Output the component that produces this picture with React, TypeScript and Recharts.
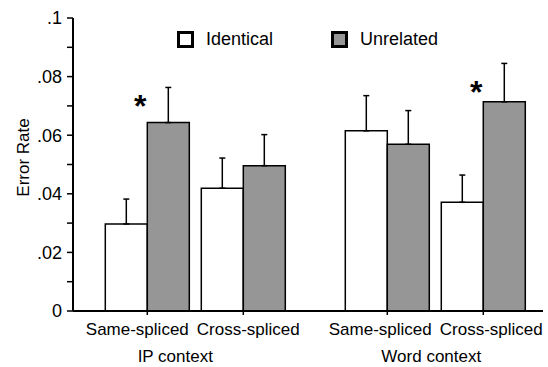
import React from 'react';
import { ComposedChart, Bar, XAxis, YAxis, ErrorBar, Scatter, Legend } from 'recharts';

// ---- data ----
const conditions = ['Same-spliced', 'Cross-spliced', 'Same-spliced', 'Cross-spliced'];
const conditionPos = [0, 1, 2.5, 3.5];
const contexts = ['IP context', 'Word context'];
const contextPos = [0.5, 3.0];
const seriesNames = ['Identical', 'Unrelated'];
const identical = [0.0297, 0.0419, 0.0615, 0.0371];
const identicalErr = [0.0085, 0.0103, 0.012, 0.0093];
const unrelated = [0.0643, 0.0496, 0.0569, 0.0714];
const unrelatedErr = [0.012, 0.0106, 0.0115, 0.0131];
const significance: (number | null)[] = [0.0724, null, null, 0.0771];
const yTicks = [0, 0.01, 0.02, 0.03, 0.04, 0.05, 0.06, 0.07, 0.08, 0.09, 0.1];
const yTickLabels = ['0', '', '.02', '', '.04', '', '.06', '', '.08', '', '.1'];

// ---- styles ----
const FONT = '"Liberation Sans", Arial, sans-serif';
const GRAY = '#969696';
const conditionNudge = [-10, 5, -7, 8];
const contextNudge = [-20, -4];

const rows = conditions.map((c, i) => ({
  x: conditionPos[i],
  name: c,
  identical: identical[i],
  identicalErr: [0, identicalErr[i]],
  unrelated: unrelated[i],
  unrelatedErr: [0, unrelatedErr[i]],
  sig: significance[i],
}));

const ConditionTick = (props: any) => {
  const { x, y, index } = props;
  return (
    <text x={x + conditionNudge[index]} y={y} dy="0.71em" textAnchor="middle" fontSize={17} fontFamily={FONT} fill="#000">
      {conditions[index]}
    </text>
  );
};

const ContextTick = (props: any) => {
  const { x, y, index } = props;
  return (
    <text x={x + contextNudge[index]} y={y + 25} textAnchor="middle" fontSize={17} fontFamily={FONT} fill="#000">
      {contexts[index]}
    </text>
  );
};

const StarShape = (props: any) => {
  const { cx, cy, payload } = props;
  if (payload == null || payload.sig == null) return <g />;
  const fs = 32;
  return (
    <text x={cx - 7} y={cy + 0.57 * fs} textAnchor="middle" fontSize={fs} fontWeight="bold" fontFamily={FONT} fill="#000">
      *
    </text>
  );
};

const YLabel = (props: any) => {
  const vb = props.viewBox || { x: 0, y: 18, width: 73, height: 293 };
  const cx = vb.x + 23;
  const cy = vb.y + vb.height / 2 - 7;
  return (
    <text x={cx} y={cy} transform={`rotate(-90, ${cx}, ${cy})`} textAnchor="middle" dominantBaseline="central" fontSize={17} fontFamily={FONT} fill="#000">
      Error Rate
    </text>
  );
};

const LegendContent = () => {
  const fills = ['#ffffff', GRAY];
  return (
    <div style={{ display: 'flex', alignItems: 'center', fontFamily: FONT, fontSize: 18, color: '#000' }}>
      {seriesNames.map((n, i) => (
        <div key={n} style={{ display: 'flex', alignItems: 'center', marginLeft: i === 0 ? 0 : 58 }}>
          <div style={{ width: 17, height: 17, boxSizing: 'border-box', border: '3px solid #000', background: fills[i] }} />
          <span style={{ marginLeft: 12, lineHeight: '17px' }}>{n}</span>
        </div>
      ))}
    </div>
  );
};

export default function App() {
  return (
    <div style={{ position: 'absolute', left: 0, top: 0, width: 548, height: 367, background: '#fff' }}>
      <ComposedChart width={548} height={367} data={rows} margin={{ top: 18, right: 5, bottom: 0, left: 0 }} barGap={0}>
        <XAxis
          type="number"
          dataKey="x"
          domain={[-0.774, 4.122]}
          allowDataOverflow
          ticks={conditionPos}
          interval={0}
          tickSize={4}
          tickMargin={8}
          height={26}
          axisLine={{ stroke: '#000', strokeWidth: 2 }}
          tickLine={{ stroke: '#000', strokeWidth: 1.5 }}
          tick={<ConditionTick />}
        />
        <XAxis
          xAxisId="ctx"
          type="number"
          dataKey="x"
          domain={[-0.774, 4.122]}
          allowDataOverflow
          ticks={contextPos}
          interval={0}
          tickSize={0}
          tickMargin={0}
          height={30}
          axisLine={false}
          tickLine={false}
          tick={<ContextTick />}
        />
        <YAxis
          width={73}
          domain={[0, 0.1]}
          allowDataOverflow
          ticks={yTicks}
          interval={0}
          tickFormatter={(v: number, i: number) => yTickLabels[i]}
          tickSize={6}
          tickMargin={5}
          axisLine={{ stroke: '#000', strokeWidth: 2 }}
          tickLine={{ stroke: '#000', strokeWidth: 1.5 }}
          tick={{ fill: '#000', fontSize: 18, fontFamily: FONT }}
          label={<YLabel />}
        />
        <Legend layout="horizontal" verticalAlign="middle" align="center" wrapperStyle={{ position: 'absolute', top: 31, left: 177, width: 'auto' }} content={<LegendContent />} />
        <Bar dataKey="identical" name={seriesNames[0]} fill="#ffffff" stroke="#000" strokeWidth={1.5} barSize={42} isAnimationActive={false}>
          <ErrorBar dataKey="identicalErr" direction="y" width={3} stroke="#000" strokeWidth={1.5} />
        </Bar>
        <Bar dataKey="unrelated" name={seriesNames[1]} fill={GRAY} stroke="#000" strokeWidth={1.5} barSize={42} isAnimationActive={false}>
          <ErrorBar dataKey="unrelatedErr" direction="y" width={3} stroke="#000" strokeWidth={1.5} />
        </Bar>
        <Scatter dataKey="sig" legendType="none" shape={<StarShape />} isAnimationActive={false} />
      </ComposedChart>
    </div>
  );
}
